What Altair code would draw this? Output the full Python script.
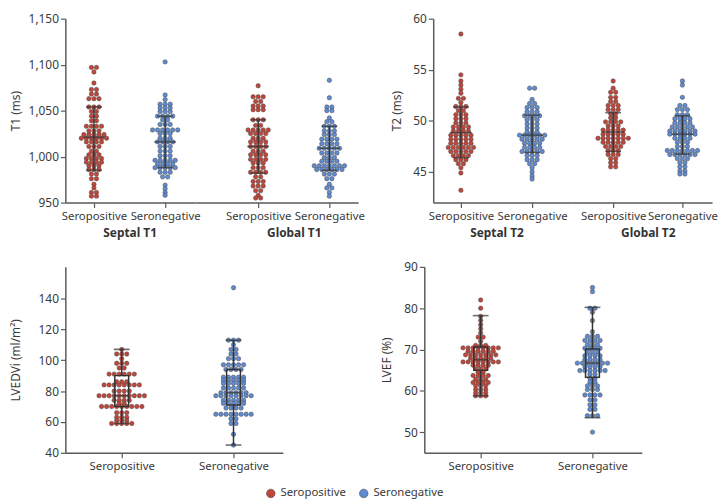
import altair as alt
import pandas as pd

STATUS = ["Seropositive", "Seronegative"]
RED = "#c2453a"
BLUE = "#5f8bd2"
STROKE = "#4a4a4a"
LINE = "#333333"
AXIS = "#5a5a5a"
TEXT = "#3a3a3a"
FONT = "Noto Sans"

# ---------------- T1 (ms) ----------------
septal_t1_pos_values = [1097, 1092, 1080, 1073, 1068, 1063, 1054, 1049, 1044, 1039, 1033, 1028, 1024, 1020,
                        1016, 1011, 1006, 1002, 998, 994, 990, 986, 981, 976, 970, 966, 961, 957]
septal_t1_pos_counts = [2, 1, 1, 2, 2, 3, 3, 2, 2, 2, 4, 3, 5, 6, 4, 3, 2, 3, 4, 4, 3, 3, 2, 2, 1, 1, 2, 2]
septal_t1_neg_values = [1103, 1067, 1062, 1057, 1053, 1049, 1044, 1040, 1035, 1029, 1025, 1020, 1016, 1011,
                        1006, 1001, 996, 992, 988, 983, 978, 969, 965, 961, 958]
septal_t1_neg_counts = [1, 1, 1, 3, 3, 3, 4, 2, 3, 6, 3, 3, 4, 3, 3, 3, 5, 4, 5, 3, 2, 1, 1, 1, 1]
septal_t1_mean = [1021, 1016]
septal_t1_low = [985, 988]
septal_t1_high = [1054, 1044]

global_t1_pos_values = [1077, 1065, 1060, 1055, 1051, 1040, 1034, 1029, 1025, 1020, 1016, 1011, 1006, 1002,
                        997, 993, 988, 983, 978, 973, 968, 963, 958, 955]
global_t1_pos_counts = [1, 3, 2, 3, 3, 3, 2, 5, 4, 3, 4, 4, 3, 4, 4, 3, 3, 4, 2, 3, 3, 2, 1, 2]
global_t1_neg_values = [1083, 1064, 1054, 1050, 1042, 1038, 1033, 1028, 1024, 1019, 1014, 1009, 1004, 999,
                        995, 990, 986, 981, 976, 970, 966, 961, 957]
global_t1_neg_counts = [1, 1, 2, 2, 1, 2, 3, 3, 3, 4, 4, 5, 4, 3, 4, 7, 6, 3, 2, 1, 2, 1, 1]
global_t1_mean = [1011, 1009]
global_t1_low = [982, 985]
global_t1_high = [1040, 1033]

# ---------------- T2 (ms) ----------------
septal_t2_pos_values = [58.5, 54.5, 53.9, 53.5, 53.1, 52.7, 52.2, 51.8, 51.4, 51.0, 50.6, 50.2, 49.8, 49.4,
                        49.0, 48.6, 48.2, 47.8, 47.4, 47.0, 46.6, 46.2, 45.8, 45.4, 44.9, 43.2]
septal_t2_pos_counts = [1, 1, 1, 1, 1, 1, 2, 1, 3, 2, 3, 3, 3, 4, 4, 5, 5, 5, 6, 5, 4, 3, 2, 1, 1, 1]
septal_t2_neg_values = [53.2, 52.1, 51.7, 51.3, 50.9, 50.5, 50.1, 49.7, 49.3, 48.9, 48.6, 48.2, 47.8, 47.4,
                        47.0, 46.6, 46.2, 45.8, 45.4, 45.0, 44.6, 44.3]
septal_t2_neg_counts = [2, 1, 2, 3, 3, 4, 3, 3, 3, 3, 6, 5, 4, 4, 5, 3, 3, 2, 1, 1, 1, 1]
septal_t2_mean = [48.85, 48.6]
septal_t2_low = [46.4, 46.9]
septal_t2_high = [51.35, 50.55]

global_t2_pos_values = [53.9, 53.2, 52.8, 52.3, 51.9, 51.5, 51.1, 50.7, 50.3, 49.9, 49.5, 49.1, 48.7, 48.3,
                        47.9, 47.5, 47.1, 46.7, 46.3, 45.9, 45.5]
global_t2_pos_counts = [1, 1, 2, 2, 2, 3, 3, 2, 2, 4, 3, 5, 5, 7, 5, 4, 3, 3, 2, 2, 2]
global_t2_neg_values = [53.9, 53.5, 52.3, 51.5, 51.1, 50.6, 50.2, 49.8, 49.4, 49.0, 48.7, 48.3, 47.9, 47.5,
                        47.1, 46.7, 46.3, 45.9, 45.5, 45.1, 44.8]
global_t2_neg_counts = [1, 1, 1, 2, 3, 3, 4, 4, 5, 6, 6, 4, 3, 3, 7, 6, 3, 2, 2, 2, 2]
global_t2_mean = [48.9, 48.7]
global_t2_low = [47.0, 46.75]
global_t2_high = [50.8, 50.5]

# ---------------- LVEDVi (ml/m2) ----------------
lvedvi_pos_values = [107, 104, 101, 98, 95, 91, 86, 84, 80, 77, 74, 72, 70, 66, 63, 61, 59]
lvedvi_pos_counts = [1, 3, 1, 3, 2, 6, 3, 8, 4, 10, 4, 2, 9, 3, 3, 3, 5]
lvedvi_neg_values = [147, 113, 110, 107, 104, 101, 97, 94, 89, 87, 85, 82, 79, 77, 74, 72, 69, 65, 62, 59, 52, 45]
lvedvi_neg_counts = [1, 3, 1, 2, 2, 3, 5, 4, 5, 5, 5, 5, 6, 8, 5, 5, 4, 8, 2, 2, 1, 1]
lvedvi_min = [59, 45]
lvedvi_q1 = [70, 71]
lvedvi_median = [77, 79]
lvedvi_q3 = [90, 94]
lvedvi_max = [107, 113]

# ---------------- LVEF (%) ----------------
lvef_pos_values = [82, 80, 78, 77, 76, 75, 74, 73, 72, 71, 70.4, 69.6, 68.7, 67.9, 67.0, 66.2, 65.3, 64.5,
                   63.7, 62.8, 62.0, 61.2, 60.3, 59.5, 58.8]
lvef_pos_counts = [1, 1, 1, 1, 1, 1, 1, 2, 1, 3, 8, 6, 7, 5, 8, 4, 3, 2, 4, 3, 4, 3, 3, 3, 3]
lvef_neg_values = [85, 84, 80, 79, 77, 74.3, 73.2, 72.2, 71.2, 70.3, 69.4, 68.5, 67.6, 66.7, 65.8, 64.9,
                   64.0, 63.0, 62.1, 61.2, 60.3, 59.0, 57.8, 56.6, 55.5, 54.0, 50]
lvef_neg_counts = [1, 1, 2, 1, 1, 1, 3, 4, 3, 4, 3, 4, 4, 7, 4, 6, 2, 2, 2, 3, 3, 4, 2, 2, 2, 3, 1]
lvef_min = [58.8, 53.5]
lvef_q1 = [65.0, 63.3]
lvef_median = [67.5, 66.7]
lvef_q3 = [70.6, 70.1]
lvef_max = [78.2, 80.2]


def swarm_frame(pos_vals, pos_counts, neg_vals, neg_counts):
    recs = []
    for status, vals, counts in ((STATUS[0], pos_vals, pos_counts), (STATUS[1], neg_vals, neg_counts)):
        for v, k in zip(vals, counts):
            for i in range(k):
                recs.append({"status": status, "value": v, "slot": i - (k - 1) / 2})
    return pd.DataFrame(recs)


color_scale = alt.Scale(domain=STATUS, range=[RED, BLUE])
offset_scale = alt.Scale(domain=[-10, 10], range=[-51, 51])
legend = alt.Legend(orient="none", legendX=202, legendY=474, direction="horizontal", title=None,
                    symbolType="circle", symbolSize=75, symbolStrokeColor=STROKE, symbolStrokeWidth=0.6,
                    labelFontSize=11.5, labelColor=TEXT, labelFont=FONT, columnPadding=12)


def panel(df, stats, kind, ydomain, yticks, ytitle, ytitle_pad, show_y, width, height, pad, align,
          xtitle=None, xtitle_x=None, yext=None):
    xs = alt.Scale(type="point", domain=STATUS, padding=pad, align=align)
    ax_kwargs = dict(labelAngle=0, labelOverlap=False, labelPadding=3, labelFontSize=11.5)
    if xtitle is not None:
        ax_kwargs.update(title=xtitle, titleFontWeight="bold", titlePadding=6, titleColor=LINE)
        if xtitle_x is not None:
            ax_kwargs.update(titleX=xtitle_x)
    else:
        ax_kwargs.update(title=None)
    X = alt.X("status:N", scale=xs, axis=alt.Axis(**ax_kwargs))
    ys = alt.Scale(domain=ydomain, nice=False, zero=False)
    if show_y:
        ykw = dict(values=yticks, title=ytitle, format=",d", titlePadding=ytitle_pad)
        if yext is not None:
            ykw.update(minExtent=yext, maxExtent=yext)
        yaxis = alt.Axis(**ykw)
    else:
        yaxis = None

    def Y(field):
        return alt.Y(field + ":Q", scale=ys, axis=yaxis)

    dots = alt.Chart(df).mark_circle(size=20, opacity=1, stroke=STROKE, strokeWidth=0.5).encode(
        x=X,
        xOffset=alt.XOffset("slot:Q", scale=offset_scale),
        y=Y("value"),
        color=alt.Color("status:N", scale=color_scale, legend=legend),
    )
    sdf = pd.DataFrame(stats)
    layers = [dots]
    if kind == "mean":
        layers += [
            alt.Chart(sdf).mark_rule(color=LINE, strokeWidth=1.5).encode(x=X, y=Y("low"), y2="high:Q"),
            alt.Chart(sdf).mark_tick(color=LINE, size=22, thickness=1.6).encode(x=X, y=Y("mean")),
            alt.Chart(sdf).mark_tick(color=LINE, size=16, thickness=1.6).encode(x=X, y=Y("low")),
            alt.Chart(sdf).mark_tick(color=LINE, size=16, thickness=1.6).encode(x=X, y=Y("high")),
        ]
    else:
        layers += [
            alt.Chart(sdf).mark_bar(size=14, fillOpacity=0, stroke=LINE, strokeWidth=1.5).encode(
                x=X, y=Y("q1"), y2="q3:Q"),
            alt.Chart(sdf).mark_rule(color=LINE, strokeWidth=1.5).encode(x=X, y=Y("min"), y2="q1:Q"),
            alt.Chart(sdf).mark_rule(color=LINE, strokeWidth=1.5).encode(x=X, y=Y("q3"), y2="max:Q"),
            alt.Chart(sdf).mark_tick(color=LINE, size=14, thickness=1.6).encode(x=X, y=Y("median")),
            alt.Chart(sdf).mark_tick(color=LINE, size=16, thickness=1.6).encode(x=X, y=Y("min")),
            alt.Chart(sdf).mark_tick(color=LINE, size=16, thickness=1.6).encode(x=X, y=Y("max")),
        ]
    return alt.layer(*layers).properties(width=width, height=height)


TOP_H = 186
BOT_H = 188

t1_ticks = [950, 1000, 1050, 1100, 1150]
t2_ticks = [45, 50, 55, 60]
lvedvi_ticks = [40, 60, 80, 100, 120, 140]
lvef_ticks = [50, 60, 70, 80, 90]

p_sep_t1 = panel(swarm_frame(septal_t1_pos_values, septal_t1_pos_counts, septal_t1_neg_values, septal_t1_neg_counts),
                 {"status": STATUS, "mean": septal_t1_mean, "low": septal_t1_low, "high": septal_t1_high},
                 "mean", [950, 1150], t1_ticks, "T1 (ms)", 5, True, 131, TOP_H, 0.41, 0.49, "Septal T1", 65,
                 yext=38)
p_glo_t1 = panel(swarm_frame(global_t1_pos_values, global_t1_pos_counts, global_t1_neg_values, global_t1_neg_counts),
                 {"status": STATUS, "mean": global_t1_mean, "low": global_t1_low, "high": global_t1_high},
                 "mean", [950, 1150], t1_ticks, "T1 (ms)", 5, False, 165, TOP_H, 0.646, 0.688, "Global T1", 100)
p_sep_t2 = panel(swarm_frame(septal_t2_pos_values, septal_t2_pos_counts, septal_t2_neg_values, septal_t2_neg_counts),
                 {"status": STATUS, "mean": septal_t2_mean, "low": septal_t2_low, "high": septal_t2_high},
                 "mean", [42, 60], t2_ticks, "T2 (ms)", 9, True, 139, TOP_H, 0.465, 0.418, "Septal T2", 64)
p_glo_t2 = panel(swarm_frame(global_t2_pos_values, global_t2_pos_counts, global_t2_neg_values, global_t2_neg_counts),
                 {"status": STATUS, "mean": global_t2_mean, "low": global_t2_low, "high": global_t2_high},
                 "mean", [42, 60], t2_ticks, "T2 (ms)", 9, False, 143, TOP_H, 0.521, 0.589, "Global T2", 78)
p_lvedvi = panel(swarm_frame(lvedvi_pos_values, lvedvi_pos_counts, lvedvi_neg_values, lvedvi_neg_counts),
                 {"status": STATUS, "min": lvedvi_min, "q1": lvedvi_q1, "median": lvedvi_median,
                  "q3": lvedvi_q3, "max": lvedvi_max},
                 "box", [40, 160.5], lvedvi_ticks, "LVEDVi (ml/m²)", 5, True, 220, BOT_H, 0.473, 0.533, yext=38)
p_lvef = panel(swarm_frame(lvef_pos_values, lvef_pos_counts, lvef_neg_values, lvef_neg_counts),
               {"status": STATUS, "min": lvef_min, "q1": lvef_q1, "median": lvef_median,
                "q3": lvef_q3, "max": lvef_max},
               "box", [45, 90], lvef_ticks, "LVEF (%)", 10, True, 220, BOT_H, 0.473, 0.533)

top_left = alt.hconcat(p_sep_t1, p_glo_t1, spacing=0, bounds="flush")
top_right = alt.hconcat(p_sep_t2, p_glo_t2, spacing=0, bounds="flush")
row1 = alt.hconcat(top_left, top_right, spacing=26)
row2 = alt.hconcat(p_lvedvi, p_lvef, spacing=99)

chart = alt.vconcat(row1, row2, spacing=22).resolve_scale(color="shared").properties(
    padding={"left": 2, "top": 2, "right": 0, "bottom": 0})

chart = chart.configure(font=FONT).configure_view(stroke=None).configure_axis(
    domainColor=AXIS, domainWidth=1.5, tickColor=AXIS, tickWidth=1.2, tickSize=5,
    labelFont=FONT, labelFontSize=12, labelColor=TEXT,
    titleFont=FONT, titleFontSize=12, titleColor=TEXT, titleFontWeight="normal", grid=False,
)

chart.save("out.html", embed_options={"renderer": "svg", "actions": False})
